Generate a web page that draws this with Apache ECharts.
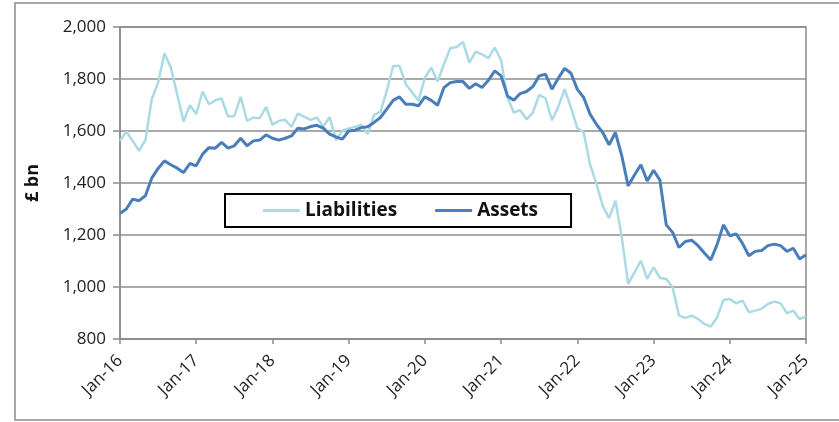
<!DOCTYPE html>
<html>
<head>
<meta charset="utf-8">
<script src="https://cdn.jsdelivr.net/npm/echarts@6/dist/echarts.min.js"></script>
<style>
  html, body { margin: 0; padding: 0; background: #fff; }
  #chart { width: 839px; height: 422px; }
</style>
</head>
<body>
<div id="chart"></div>
<script>
// monthly, Jan-16 .. Jan-25
const years = ['16', '17', '18', '19', '20', '21', '22', '23', '24', '25']
const months = ['Jan', 'Feb', 'Mar', 'Apr', 'May', 'Jun', 'Jul', 'Aug', 'Sep', 'Oct', 'Nov', 'Dec']
const categories = []
years.forEach((y, yi) => {
  months.forEach((m, mi) => {
    if (yi < years.length - 1 || mi === 0) categories.push(m + '-' + y)
  })
})

const liabilities = [
  1562, 1597, 1562, 1524, 1565, 1722, 1786, 1899, 1844, 1741, 1636, 1699,
  1665, 1752, 1703, 1718, 1725, 1656, 1658, 1731, 1639, 1652, 1649, 1693,
  1624, 1639, 1643, 1616, 1667, 1654, 1643, 1652, 1616, 1654, 1565, 1601,
  1610, 1616, 1624, 1588, 1662, 1674, 1754, 1850, 1850, 1780, 1748, 1716,
  1805, 1844, 1790, 1857, 1918, 1923, 1942, 1863, 1905, 1895, 1880, 1921,
  1872, 1729, 1671, 1680, 1645, 1671, 1739, 1726, 1641, 1693, 1761, 1690,
  1611, 1594, 1472, 1398, 1312, 1265, 1332, 1191, 1012, 1056, 1101, 1031,
  1076, 1035, 1031, 999, 890, 881, 890, 877, 858, 848, 883, 950,
  954, 937, 948, 903, 909, 916, 935, 944, 937, 899, 909, 877,
  886
]

const assets = [
  1283, 1300, 1338, 1332, 1351, 1419, 1456, 1485, 1470, 1457, 1440, 1475,
  1466, 1511, 1536, 1534, 1556, 1534, 1543, 1572, 1543, 1562, 1565, 1585,
  1572, 1565, 1572, 1581, 1611, 1608, 1617, 1622, 1611, 1588, 1577, 1569,
  1600, 1603, 1613, 1616, 1633, 1652, 1684, 1718, 1731, 1703, 1703, 1697,
  1731, 1718, 1699, 1767, 1786, 1790, 1790, 1764, 1782, 1767, 1795, 1831,
  1812, 1735, 1718, 1744, 1752, 1771, 1812, 1818, 1761, 1803, 1841, 1822,
  1760, 1729, 1665, 1626, 1594, 1547, 1594, 1504, 1389, 1431, 1470, 1408,
  1449, 1411, 1239, 1210, 1152, 1175, 1180, 1159, 1131, 1104, 1163, 1239,
  1197, 1204, 1168, 1120, 1137, 1140, 1159, 1165, 1159, 1137, 1149, 1108,
  1124
]

const yTicks = [800, 1000, 1200, 1400, 1600, 1800, 2000]

const gridGrey = '#8c8c8c'
const font = '"Open Sans", "Noto Sans", sans-serif'

const chart = echarts.init(document.getElementById('chart'))
chart.setOption({
  animation: false,
  backgroundColor: '#fff',
  graphic: [{
    type: 'rect',
    shape: { x: 15, y: 3, width: 860, height: 417 },
    style: { fill: 'none', stroke: gridGrey, lineWidth: 1.5 },
    silent: true
  }],
  grid: {
    left: 120,
    right: 33,
    top: 27,
    bottom: 83,
    show: true,
    borderColor: gridGrey,
    borderWidth: 1.5
  },
  legend: {
    data: ['Liabilities', 'Assets'],
    left: 225,
    top: 194,
    padding: [7, 33, 7, 38],
    itemGap: 38,
    itemWidth: 37,
    itemHeight: 3,
    icon: 'rect',
    borderColor: '#000',
    borderWidth: 2,
    backgroundColor: '#fff',
    textStyle: { fontFamily: font, fontWeight: 'bold', fontSize: 19, color: '#111' }
  },
  xAxis: {
    type: 'category',
    data: categories,
    boundaryGap: false,
    axisLine: { lineStyle: { color: gridGrey, width: 1.5 } },
    axisTick: { show: true, interval: 11, length: 5, lineStyle: { color: gridGrey, width: 1.5 } },
    axisLabel: {
      interval: 11,
      rotate: 45,
      margin: 19,
      fontFamily: font,
      fontSize: 17,
      color: '#222'
    },
    splitLine: { show: false }
  },
  yAxis: {
    type: 'value',
    min: yTicks[0],
    max: yTicks[yTicks.length - 1],
    interval: 200,
    name: '£ bn',
    nameLocation: 'middle',
    nameRotate: 90,
    nameGap: 78,
    nameTextStyle: { fontFamily: font, fontWeight: 'bold', fontSize: 18, color: '#111' },
    axisLine: { show: true, lineStyle: { color: gridGrey, width: 1.5 } },
    axisTick: { show: true, inside: false, length: 7, lineStyle: { color: gridGrey, width: 1.5 } },
    axisLabel: {
      margin: 14,
      fontFamily: font,
      fontSize: 17,
      color: '#222',
      formatter: v => v.toLocaleString('en-GB')
    },
    splitLine: { lineStyle: { color: gridGrey, width: 1.5 } }
  },
  series: [
    {
      name: 'Liabilities',
      type: 'line',
      data: liabilities,
      symbol: 'none',
      lineStyle: { color: '#aadbe5', width: 2.5 },
      itemStyle: { color: '#aadbe5' }
    },
    {
      name: 'Assets',
      type: 'line',
      data: assets,
      symbol: 'none',
      lineStyle: { color: '#4a7ebb', width: 3 },
      itemStyle: { color: '#4a7ebb' }
    }
  ]
})
</script>
</body>
</html>
